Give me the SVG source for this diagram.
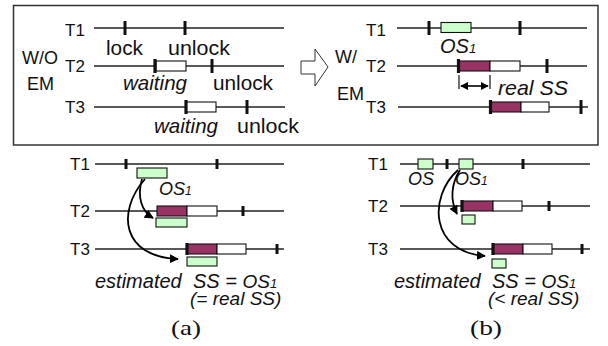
<svg xmlns="http://www.w3.org/2000/svg" width="608" height="346" viewBox="0 0 608 346">
  <style>
    .t { font-family: "Liberation Sans", Arial, sans-serif; fill: #111; }
    .lb { font-size: 17px; }
    .an { font-size: 21px; }
    .md { font-size: 20px; }
    .cp { font-size: 19px; }
    .sm { font-size: 18px; }
    .i { font-style: italic; }
    .sub { font-size: 13px; }
    .sub2 { font-size: 12px; }
    .cap { font-family: "Liberation Serif", "Times New Roman", serif; font-size: 22px; fill: #111; }
    .ln { stroke: #222; stroke-width: 1.3; fill: none; }
    .tk { stroke: #111; stroke-width: 3; }
    .tkb { stroke: #111; stroke-width: 3.2; }
    .wait { fill: #fff; stroke: #111; stroke-width: 1.1; }
    .ss { fill: #993366; stroke: #111; stroke-width: 1.1; }
    .os { fill: #ccffcc; stroke: #111; stroke-width: 1.1; }
    .cv { stroke: #000; stroke-width: 1.8; fill: none; marker-end: url(#ah); }
  </style>
  <defs>
    <marker id="ah" viewBox="0 0 10 10" refX="9" refY="5" markerWidth="5" markerHeight="5" orient="auto" markerUnits="strokeWidth">
      <path d="M0,0 L10,5 L0,10 z" fill="#000"/>
    </marker>
    <marker id="dh" viewBox="0 0 10 10" refX="9" refY="5" markerWidth="5" markerHeight="5" orient="auto-start-reverse" markerUnits="strokeWidth">
      <path d="M0,0 L10,5 L0,10 z" fill="#000"/>
    </marker>
  </defs>

  <!-- framed comparison: without / with early management -->
  <rect x="13.5" y="5.5" width="584.5" height="139.5" fill="#fff" stroke="#333" stroke-width="1.5"/>

  <!-- left half: W/O EM -->
  <g id="wo-em">
    <text class="t sm" x="22" y="64">W/O</text>
    <text class="t sm" x="27" y="90">EM</text>
  </g>
  <g id="wo-t1">
    <text class="t lb" x="65" y="36">T1</text>
    <line class="ln" x1="94" y1="28" x2="284" y2="28"/>
    <line class="tk" x1="125" y1="21" x2="125" y2="35"/>
    <line class="tk" x1="185" y1="21" x2="185" y2="35"/>
    <text class="t an" x="106" y="55" textLength="37" lengthAdjust="spacingAndGlyphs">lock</text>
    <text class="t an" x="168" y="55" textLength="62" lengthAdjust="spacingAndGlyphs">unlock</text>
  </g>
  <g id="wo-t2">
    <text class="t lb" x="65" y="72">T2</text>
    <line class="ln" x1="94" y1="66" x2="284" y2="66"/>
    <rect class="wait" x="156" y="61" width="30" height="10"/>
    <line class="tkb" x1="155" y1="59" x2="155" y2="73"/>
    <line class="tk" x1="212" y1="59" x2="212" y2="73"/>
    <text class="t an i" x="123" y="90" textLength="64" lengthAdjust="spacingAndGlyphs">waiting</text>
    <text class="t an" x="213" y="90" textLength="60" lengthAdjust="spacingAndGlyphs">unlock</text>
  </g>
  <g id="wo-t3">
    <text class="t lb" x="65" y="113">T3</text>
    <line class="ln" x1="94" y1="107" x2="285" y2="107"/>
    <rect class="wait" x="186" y="102" width="30" height="10"/>
    <line class="tkb" x1="186" y1="100" x2="186" y2="114"/>
    <line class="tk" x1="247" y1="100" x2="247" y2="114"/>
    <text class="t an i" x="154" y="133" textLength="64" lengthAdjust="spacingAndGlyphs">waiting</text>
    <text class="t an" x="237" y="133" textLength="62" lengthAdjust="spacingAndGlyphs">unlock</text>
  </g>

  <!-- hollow transition arrow -->
  <g id="transition">
    <polygon points="301,61 315,61 315,49 328,67 315,86 315,74 301,74" fill="#fff" stroke="#333" stroke-width="1"/>
  </g>

  <!-- right half: W/ EM -->
  <g id="w-em">
    <text class="t sm" x="335" y="63">W/</text>
    <text class="t sm" x="337" y="100">EM</text>
  </g>
  <g id="w-t1">
    <text class="t lb" x="366" y="36">T1</text>
    <line class="ln" x1="397" y1="28" x2="587" y2="28"/>
    <line class="tk" x1="429" y1="21" x2="429" y2="35"/>
    <rect class="os" x="441" y="22.5" width="30" height="10"/>
    <line class="tk" x1="520" y1="21" x2="520" y2="35"/>
    <text class="t md i" x="440" y="53">OS<tspan class="sub">1</tspan></text>
  </g>
  <g id="w-t2">
    <text class="t lb" x="366" y="72">T2</text>
    <line class="ln" x1="397" y1="66" x2="587" y2="66"/>
    <rect class="ss" x="459" y="61" width="31" height="10"/>
    <rect class="wait" x="490" y="61" width="30" height="10"/>
    <line class="tkb" x1="458.5" y1="59" x2="458.5" y2="73"/>
    <line class="tk" x1="547" y1="59" x2="547" y2="73"/>
  </g>
  <g id="w-realss">
    <line stroke="#111" stroke-width="1.2" x1="459" y1="75" x2="459" y2="89"/>
    <line stroke="#111" stroke-width="1.2" x1="490" y1="75" x2="490" y2="89"/>
    <line stroke="#000" stroke-width="1.6" x1="461" y1="86" x2="488" y2="86" marker-start="url(#dh)" marker-end="url(#dh)"/>
    <text class="t an i" x="498" y="95" textLength="70" lengthAdjust="spacingAndGlyphs">real SS</text>
  </g>
  <g id="w-t3">
    <text class="t lb" x="366" y="113">T3</text>
    <line class="ln" x1="398" y1="107" x2="588" y2="107"/>
    <rect class="ss" x="491" y="102" width="30" height="10"/>
    <rect class="wait" x="521" y="102" width="28" height="10"/>
    <line class="tkb" x1="490.5" y1="100" x2="490.5" y2="114"/>
    <line class="tk" x1="581" y1="100" x2="581" y2="114"/>
  </g>

  <!-- (a) -->
  <g id="a-t1">
    <text class="t lb" x="70" y="170">T1</text>
    <line class="ln" x1="95" y1="164" x2="284" y2="164"/>
    <line class="tk" x1="126" y1="159" x2="126" y2="169"/>
    <line class="tk" x1="217" y1="159" x2="217" y2="169"/>
    <rect class="os" x="137" y="168" width="30" height="10"/>
    <text class="t sm i" x="159" y="195">OS<tspan class="sub2">1</tspan></text>
  </g>
  <g id="a-t2">
    <text class="t lb" x="70" y="217">T2</text>
    <line class="ln" x1="95" y1="211" x2="284" y2="211"/>
    <rect class="ss" x="157" y="206" width="30" height="10"/>
    <rect class="wait" x="187" y="206" width="30" height="10"/>
    <line class="tk" x1="243" y1="206" x2="243" y2="216"/>
    <rect class="os" x="156" y="218" width="31" height="9"/>
  </g>
  <g id="a-t3">
    <text class="t lb" x="70" y="255">T3</text>
    <line class="ln" x1="95" y1="249" x2="284" y2="249"/>
    <rect class="ss" x="187" y="244" width="30" height="10"/>
    <rect class="wait" x="217" y="244" width="29" height="10"/>
    <line class="tkb" x1="187" y1="243" x2="187" y2="255"/>
    <line class="tk" x1="277" y1="244" x2="277" y2="254"/>
    <rect class="os" x="187" y="257" width="30" height="9"/>
  </g>
  <g id="a-caption">
    <text class="t md i" x="95" y="288">estimated</text>
    <text class="t md i" x="193" y="288">SS = <tspan class="cp">OS</tspan><tspan class="sub">1</tspan></text>
    <text class="t cp i" x="190" y="305">(= real SS)</text>
    <text class="cap" x="171" y="335" textLength="30" lengthAdjust="spacingAndGlyphs">(a)</text>
  </g>

  <!-- (b) -->
  <g id="b-t1">
    <text class="t lb" x="368" y="170">T1</text>
    <line class="ln" x1="400" y1="164" x2="590" y2="164"/>
    <rect class="os" x="418" y="159" width="15" height="10"/>
    <line class="tk" x1="447" y1="159" x2="447" y2="169"/>
    <rect class="os" x="459" y="159" width="14" height="10"/>
    <line class="tk" x1="523" y1="159" x2="523" y2="169"/>
    <text class="t sm i" x="408" y="185">OS</text>
    <text class="t sm i" x="455" y="185">OS<tspan class="sub2">1</tspan></text>
  </g>
  <g id="b-t2">
    <text class="t lb" x="368" y="212">T2</text>
    <line class="ln" x1="400" y1="206" x2="590" y2="206"/>
    <rect class="ss" x="462" y="201" width="31" height="10"/>
    <rect class="wait" x="493" y="201" width="29" height="10"/>
    <line class="tkb" x1="462" y1="200" x2="462" y2="212"/>
    <line class="tk" x1="549" y1="201" x2="549" y2="211"/>
    <rect class="os" x="462" y="215" width="13" height="9"/>
  </g>
  <g id="b-t3">
    <text class="t lb" x="368" y="255">T3</text>
    <line class="ln" x1="400" y1="249" x2="590" y2="249"/>
    <rect class="ss" x="493" y="244" width="30" height="10"/>
    <rect class="wait" x="523" y="244" width="29" height="10"/>
    <line class="tkb" x1="493" y1="243" x2="493" y2="255"/>
    <line class="tk" x1="582" y1="244" x2="582" y2="254"/>
    <rect class="os" x="492" y="259" width="14" height="9"/>
  </g>
  <g id="b-caption">
    <text class="t md i" x="394" y="288">estimated</text>
    <text class="t md i" x="492" y="288">SS = <tspan class="cp">OS</tspan><tspan class="sub">1</tspan></text>
    <text class="t cp i" x="488" y="305">(&lt; real SS)</text>
    <text class="cap" x="470" y="335" textLength="32" lengthAdjust="spacingAndGlyphs">(b)</text>
  </g>

  <!-- curved hand-off arrows -->
  <g id="connectors">
    <path class="cv" d="M142,179 C137,196 141,211 153,218"/>
    <path class="cv" d="M145,179 C116,212 122,257 178,259"/>
    <path class="cv" d="M460,170 C451,184 450,200 457,214"/>
    <path class="cv" d="M458,170 C428,197 430,252 485,256"/>
  </g>
</svg>
